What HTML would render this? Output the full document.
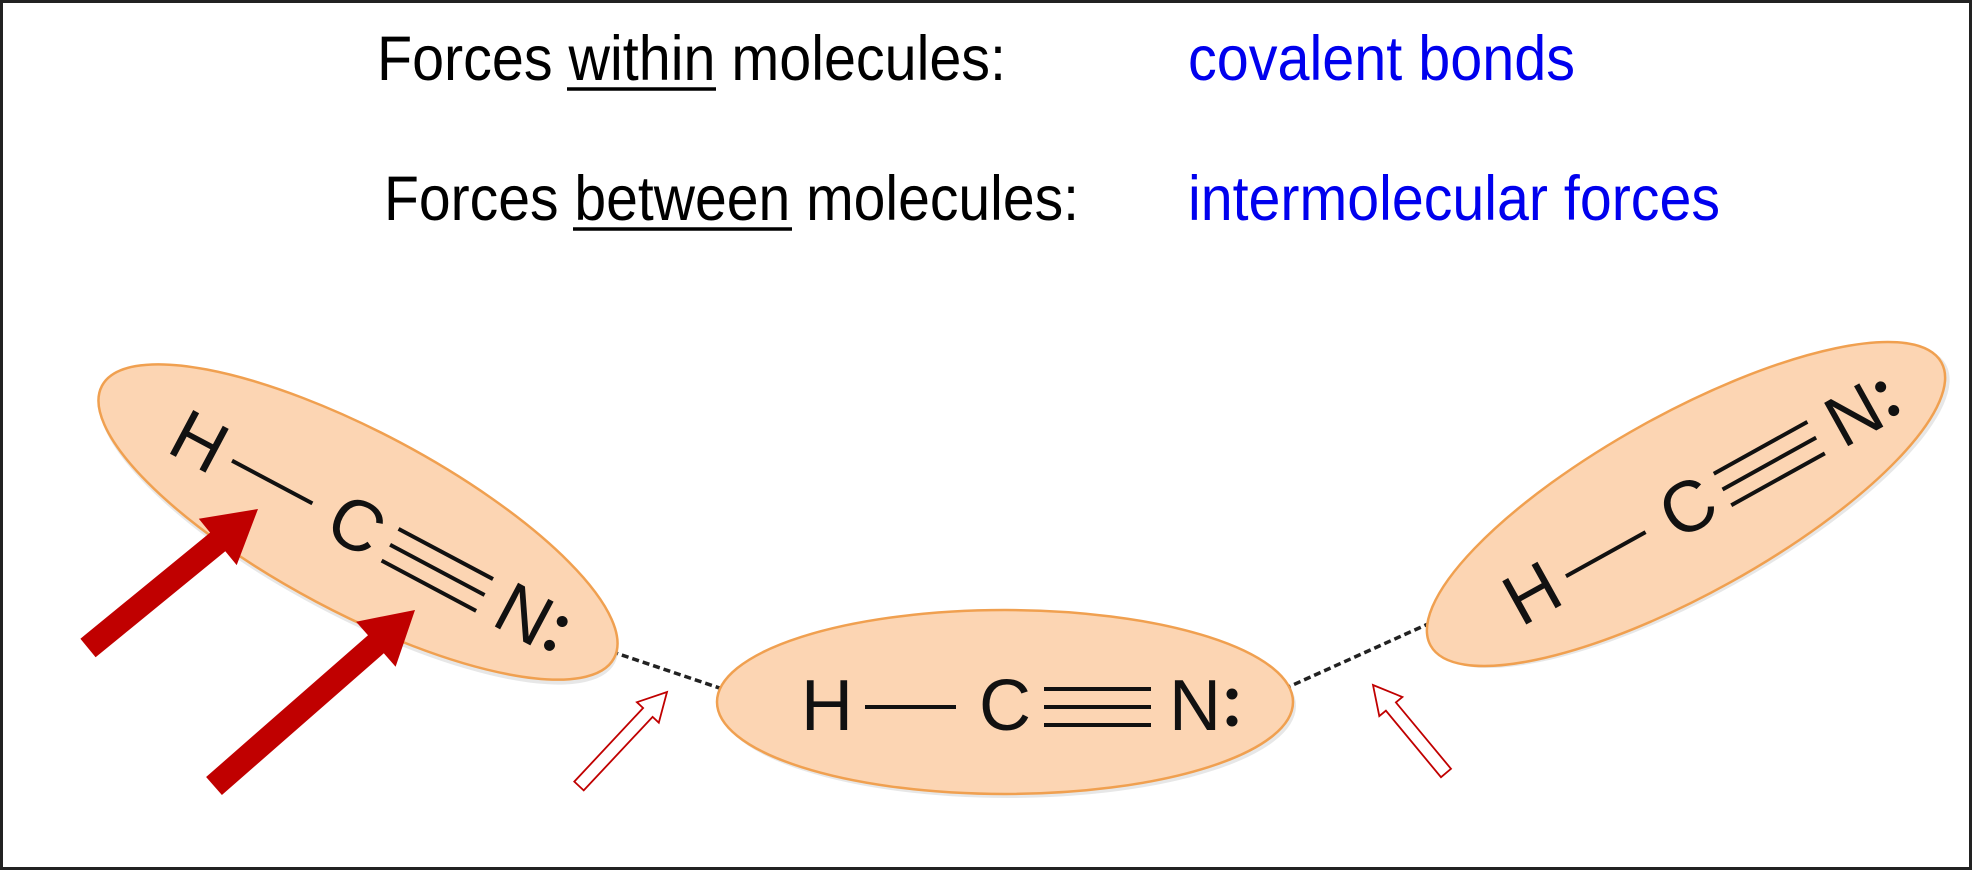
<!DOCTYPE html>
<html><head><meta charset="utf-8"><style>
html,body{margin:0;padding:0;background:#fff;}
svg{display:block;}
</style></head><body>
<svg width="1972" height="870" viewBox="0 0 1972 870" xmlns="http://www.w3.org/2000/svg">
<rect x="1.5" y="1.5" width="1969" height="867" fill="#fff" stroke="#222" stroke-width="3"/>
<g font-family="Liberation Sans, Arial, sans-serif" font-size="63">
<text x="377" y="80" textLength="629" lengthAdjust="spacingAndGlyphs" fill="#000">Forces within molecules:</text>
<line x1="567" y1="89" x2="716" y2="89" stroke="#000" stroke-width="3.5"/>
<text x="1188" y="80" textLength="387" lengthAdjust="spacingAndGlyphs" fill="#0000ee">covalent bonds</text>
<text x="384" y="220" textLength="695" lengthAdjust="spacingAndGlyphs" fill="#000">Forces between molecules:</text>
<line x1="573" y1="229" x2="792" y2="229" stroke="#000" stroke-width="3.5"/>
<text x="1188" y="220" textLength="532" lengthAdjust="spacingAndGlyphs" fill="#0000ee">intermolecular forces</text>
</g>
<g id="mols"></g>
<g id="arrows"></g>
</svg>
<script>
const NS='http://www.w3.org/2000/svg';
const mols=[{cx:358,cy:522,a:290,b:90,ang:28},{cx:1005,cy:702,a:288,b:92,ang:0},{cx:1686,cy:504,a:292,b:90,ang:-29}];
const molNames=['hcn-molecule-left','hcn-molecule-middle','hcn-molecule-right'];
const mg=document.getElementById('mols');
function mk(tag,attrs,parent){const e=document.createElementNS(NS,tag);for(const k in attrs)e.setAttribute(k,attrs[k]);parent.appendChild(e);return e;}
const dashes=[[601,648,761,702],[1264,698,1459,610]];
dashes.forEach((d,i)=>{
 const l=mk('line',{x1:d[0],y1:d[1],x2:d[2],y2:d[3],stroke:'#222','stroke-width':3.5,'stroke-dasharray':'7 4'},mg);
 
 
});
mols.forEach((m,i)=>{
 const g=mk('g',{transform:`translate(${m.cx},${m.cy}) rotate(${m.ang})`},mg);
 
 
 mk('ellipse',{cx:3,cy:4,rx:m.a,ry:m.b,fill:'#bbb',opacity:0.35},g);
 const e=mk('ellipse',{cx:0,cy:0,rx:m.a,ry:m.b,fill:'#fcd5b3',stroke:'#f0a050','stroke-width':2.5},g);
 
 
 const tg=mk('g',{'font-family':'Liberation Sans, Arial, sans-serif','font-size':72,fill:'#111'},g);
 [['H',-204],['C',-26],['N',164]].forEach(t=>{const tx=mk('text',{x:t[1],y:28,transform:'scale(1,1)'},tg);tx.textContent=t[0];
  
  });
 mk('line',{x1:-140,y1:5,x2:-49,y2:5,stroke:'#111','stroke-width':4},tg);
 [-13,5,23].forEach(y=>mk('line',{x1:39,y1:y,x2:146,y2:y,stroke:'#111','stroke-width':4},tg));
 mk('circle',{cx:227,cy:-8,r:5.5,fill:'#111'},tg);
 mk('circle',{cx:227,cy:19,r:5.5,fill:'#111'},tg);
});
const solidArrows=[[88,648,258,509],[214,786,415,610]];
const hollowArrows=[[579,786,667,692],[1446,773,1373,685]];
const ag=document.getElementById('arrows');
function arrowPts(t,w,hw,hl){const dx=t[2]-t[0],dy=t[3]-t[1],L=Math.hypot(dx,dy),ux=dx/L,uy=dy/L,px=-uy,py=ux;
 const bx=t[2]-ux*hl,by=t[3]-uy*hl;const p=[[t[0]+px*w/2,t[1]+py*w/2],[bx+px*w/2,by+py*w/2],[bx+px*hw/2,by+py*hw/2],[t[2],t[3]],[bx-px*hw/2,by-py*hw/2],[bx-px*w/2,by-py*w/2],[t[0]-px*w/2,t[1]-py*w/2]];
 return p.map(q=>q[0].toFixed(1)+','+q[1].toFixed(1)).join(' ');}
solidArrows.forEach((t,i)=>{const p=mk('polygon',{points:arrowPts(t,24,60,52),fill:'#c00000'},ag);
 
 });
hollowArrows.forEach((t,i)=>{const p=mk('polygon',{points:arrowPts(t,13,30,28),fill:'#fff',stroke:'#c00000','stroke-width':1.8},ag);
 
 });
</script>
</body></html>
